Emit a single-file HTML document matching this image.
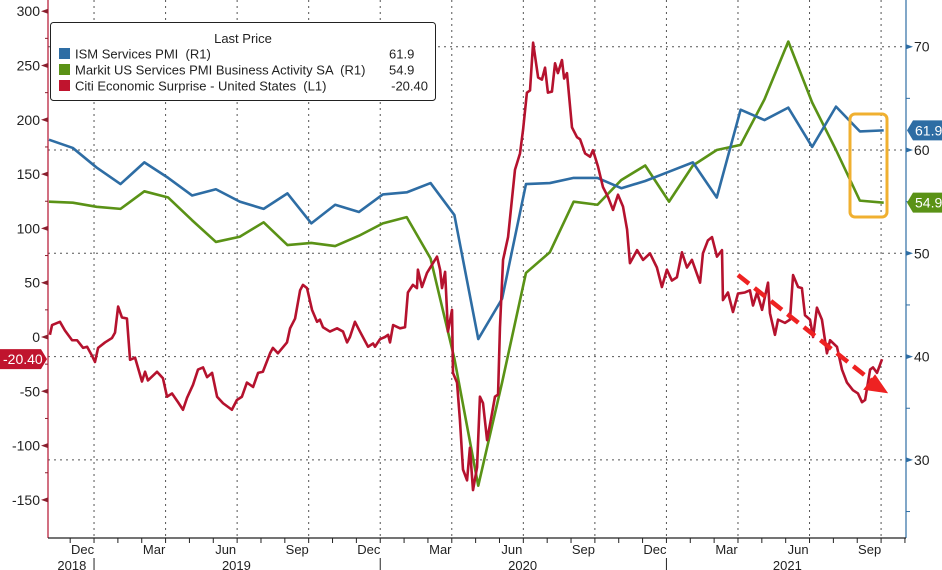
<!DOCTYPE html>
<html><head><meta charset="utf-8">
<style>
html,body{margin:0;padding:0;background:#fff;}
svg{display:block;font-family:"Liberation Sans",sans-serif;}
.pre{white-space:pre;}
</style></head>
<body>
<svg id="chart" width="942" height="570" viewBox="0 0 942 570"></svg>
<script>
// ---- data ----
const leftTicks = [300,250,200,150,100,50,0,-50,-100,-150];
const rightTicks = [70,60,50,40,30];
const rightMinor = [65,55,45,35,25];
const monthLabels = ["Dec","Mar","Jun","Sep","Dec","Mar","Jun","Sep","Dec","Mar","Jun","Sep"];
const yearLabels = ["2018","2019","2020","2021"];
const ismValues = [61.0,60.2,58.3,56.7,58.8,57.3,55.6,56.2,55.0,54.3,55.8,52.9,54.7,54.0,55.7,55.9,56.8,53.7,41.7,45.6,56.7,56.8,57.3,57.3,56.3,57.0,57.9,58.8,55.4,63.9,62.9,64.1,60.3,64.2,61.8,61.9];
const markitValues = [55.0,54.9,54.5,54.3,56.0,55.4,53.2,51.1,51.6,53.0,50.8,51.0,50.7,51.7,52.9,53.5,49.5,39.8,27.5,37.5,48.1,50.1,55.0,54.7,57.1,58.5,55.0,58.5,60.0,60.5,64.9,70.5,64.6,60.0,55.1,54.9];
const citiTimes = [0.08,0.17,0.50,0.71,1.01,1.22,1.47,1.64,1.84,1.97,2.10,2.39,2.68,2.81,2.94,3.10,3.31,3.44,3.65,3.94,4.07,4.19,4.57,4.82,4.99,5.20,5.45,5.66,5.83,6.08,6.29,6.50,6.67,6.88,7.09,7.34,7.71,7.92,8.13,8.34,8.60,8.81,9.01,9.31,9.43,9.64,10.02,10.15,10.36,10.57,10.69,10.86,11.07,11.28,11.40,11.53,11.82,12.12,12.37,12.54,12.66,12.87,13.08,13.42,13.63,13.71,13.92,14.13,14.26,14.34,14.47,14.76,14.97,15.09,15.30,15.47,15.51,15.68,15.89,16.14,16.31,16.44,16.52,16.65,16.77,16.94,16.98,17.15,17.27,17.40,17.57,17.69,17.82,17.99,18.11,18.24,18.41,18.62,18.74,18.87,18.95,19.08,19.29,19.58,19.79,19.92,20.08,20.21,20.34,20.55,20.71,20.84,20.96,21.13,21.26,21.38,21.55,21.64,21.76,21.97,22.18,22.31,22.52,22.73,22.85,23.06,23.27,23.48,23.69,23.90,24.11,24.28,24.40,24.70,24.95,25.24,25.53,25.74,25.95,26.16,26.37,26.58,26.79,27.00,27.34,27.46,27.67,27.84,28.05,28.26,28.30,28.51,28.72,28.93,29.22,29.43,29.56,29.73,29.94,30.19,30.27,30.48,30.61,30.90,31.11,31.24,31.45,31.61,31.74,31.95,32.08,32.24,32.45,32.66,32.79,33.08,33.29,33.50,33.75,33.96,34.13,34.26,34.47,34.59,34.76,34.97];
const citiValues = [2,11,14,6,-3,-3,-10,-9,-17,-23,-10,-5,-1,4,28,18,17,-21,-19,-41,-32,-40,-32,-38,-55,-52,-60,-67,-56,-44,-30,-28,-37,-33,-55,-61,-67,-58,-55,-42,-46,-33,-32,-15,-10,-15,-5,8,17,43,48,45,25,14,16,9,5,8,5,-5,0,14,5,-9,-6,-9,-2,0,2,-5,11,8,9,41,48,45,62,46,59,68,74,62,45,60,5,25,-33,-42,-76,-122,-132,-102,-141,-120,-55,-61,-95,-70,-55,-53,9,71,92,154,169,191,225,227,271,239,237,248,225,226,252,243,255,238,243,193,184,182,169,166,172,157,138,129,117,131,120,99,68,80,71,77,64,46,62,52,55,78,64,71,50,77,89,92,74,80,34,41,23,40,41,43,29,41,25,50,22,2,16,13,16,57,46,45,20,16,0,27,16,-15,-3,-9,-30,-42,-49,-52,-60,-58,-30,-28,-33,-20.4];
const lastValues = ["61.9","54.9","-20.40"];

// ---- scales ----
const X0 = 48, X1 = 906, YB = 538, MPX = 23.85;
const xT = t => X0 + t * MPX;
const yL = v => 337 - v * 1.086;
const yR = v => 150 - (v - 60) * 10.33;

const NS = "http://www.w3.org/2000/svg";
const svg = document.getElementById("chart");
function mk(tag, attrs, parent) {
  const e = document.createElementNS(NS, tag);
  for (const k in attrs) e.setAttribute(k, attrs[k]);
  (parent || svg).appendChild(e);
  return e;
}

// gridlines
const grid = mk("g", {});


rightTicks.forEach(v => {
  const l = mk("line", {x1: X0, x2: X1, y1: yR(v), y2: yR(v), stroke: "#555", "stroke-width": 1, "stroke-dasharray": "2,4"}, grid);
  
  
});
for (let k = 0; k < 12; k++) {
  const x = xT(1.93 + 3 * k);
  const l = mk("line", {x1: x, x2: x, y1: 0, y2: YB, stroke: "#555", "stroke-width": 1, "stroke-dasharray": "2,4"}, grid);
  
  
}

// axes
const ax = mk("g", {});


const la = mk("line", {x1: X0, x2: X0, y1: 0, y2: YB, stroke: "#b5122e", "stroke-width": 1.2}, ax);


const ra = mk("line", {x1: X1, x2: X1, y1: 0, y2: YB, stroke: "#2e6da4", "stroke-width": 1.2}, ax);


const ba = mk("line", {x1: X0, x2: X1, y1: YB, y2: YB, stroke: "#222", "stroke-width": 1.2}, ax);



leftTicks.forEach(v => {
  const y = yL(v);
  mk("path", {d: `M${X0} ${y - 2.5} L${X0} ${y + 2.5} L${X0 - 7} ${y} Z`, fill: "#8a1f2e"}, ax);
  const t = mk("text", {x: X0 - 8, y: y + 5, "text-anchor": "end", "font-size": 14, fill: "#222"}, ax);
  t.textContent = v;
  
  
});
for (let v = 275; v > -175; v -= 50) {
  mk("line", {x1: X0 - 3, x2: X0, y1: yL(v), y2: yL(v), stroke: "#8a1f2e"}, ax);
}
rightTicks.forEach(v => {
  const y = yR(v);
  mk("path", {d: `M${X1} ${y - 2.5} L${X1} ${y + 2.5} L${X1 + 7} ${y} Z`, fill: "#2e6da4"}, ax);
  const t = mk("text", {x: X1 + 8, y: y + 5, "font-size": 14, fill: "#222"}, ax);
  t.textContent = v;
  
  
});
rightMinor.forEach(v => {
  mk("line", {x1: X1, x2: X1 + 4, y1: yR(v), y2: yR(v), stroke: "#2e6da4"}, ax);
});
for (let m = 0; m < 37; m++) {
  const x = xT(0.93 + m);
  if (x > X1) break;
  mk("line", {x1: x, x2: x, y1: YB, y2: YB + 5, stroke: "#222"}, ax);
}
monthLabels.forEach((lab, i) => {
  const t = mk("text", {x: xT(1.45 + 3 * i), y: YB + 16, "text-anchor": "middle", "font-size": 13, fill: "#222"}, ax);
  t.textContent = lab;
  
  
});
const yearPos = [1.0, 7.9, 19.9, 31.0];
yearLabels.forEach((lab, i) => {
  const t = mk("text", {x: xT(yearPos[i]), y: YB + 32, "text-anchor": "middle", "font-size": 13, fill: "#222"}, ax);
  t.textContent = lab;
  
  
});
[1.93, 13.93, 25.93].forEach(t => {
  mk("line", {x1: xT(t), x2: xT(t), y1: YB + 20, y2: YB + 34, stroke: "#222"}, ax);
});

// series
function poly(pts, color, name, w) {
  const p = mk("polyline", {points: pts.map(p => p.join(",")).join(" "), fill: "none", stroke: color, "stroke-width": w, "stroke-linejoin": "round"});
  
  
}
poly(markitValues.map((v, i) => [xT(i + 0.04), yR(v)]), "#5a9216", "markit-services-pmi-line", 2.6);
poly(ismValues.map((v, i) => [xT(i + 0.04), yR(v)]), "#2e6da4", "ism-services-pmi-line", 2.6);
poly(citiValues.map((v, i) => [xT(citiTimes[i]), yL(v)]), "#b5122e", "citi-surprise-line", 2.6);

// annotation arrow
const arr = mk("g", {});


mk("line", {x1: 738, y1: 275, x2: 872, y2: 381, stroke: "#ee2222", "stroke-width": 4.5, "stroke-dasharray": "14,7"}, arr);
mk("path", {d: "M886 392 L865 389 L875 376 Z", fill: "#ee2222", stroke: "#ee2222", "stroke-width": 2}, arr);

// highlight box
const hb = mk("rect", {x: 850, y: 114, width: 37, height: 103, rx: 5, fill: "none", stroke: "#f0b030", "stroke-width": 3});



// value tags
function tag(x, y, w, color, text, name, left) {
  const g = mk("g", {});
  
  
  const d = left
    ? `M${x} ${y} L${x + 6} ${y - 10} L${x + w} ${y - 10} L${x + w} ${y + 10} L${x + 6} ${y + 10} Z`
    : `M${x + w} ${y} L${x + w - 6} ${y - 10} L${x} ${y - 10} L${x} ${y + 10} L${x + w - 6} ${y + 10} Z`;
  mk("path", {d, fill: color}, g);
  const t = mk("text", {x: left ? x + 8 : x + 3, y: y + 5, "font-size": 14, fill: "#fff"}, g);
  t.textContent = text;
}
tag(907, yR(61.9), 36, "#2e6da4", lastValues[0], "ism-last-value-tag", true);
tag(907, yR(54.9), 36, "#5a9216", lastValues[1], "markit-last-value-tag", true);
tag(0, yL(-20.4), 47, "#c0142e", lastValues[2], "citi-last-value-tag", false);

// legend
const lg = mk("g", {});


mk("rect", {x: 50.5, y: 22.5, width: 385, height: 78, rx: 3, fill: "#fff", stroke: "#222", "stroke-width": 1}, lg);
const lt = mk("text", {x: 243, y: 43, "text-anchor": "middle", "font-size": 13, fill: "#222"}, lg);
lt.textContent = "Last Price";


const entries = [
  ["ISM Services PMI  (R1)", "#2e6da4", lastValues[0]],
  ["Markit US Services PMI Business Activity SA  (R1)", "#5a9216", lastValues[1]],
  ["Citi Economic Surprise - United States  (L1)", "#c0142e", lastValues[2]]
];
entries.forEach((e, i) => {
  const y = 54 + i * 16;
  const g = mk("g", {}, lg);
  
  
  mk("rect", {x: 59, y: y - 6, width: 11, height: 11, fill: e[1]}, g);
  const t = mk("text", {x: 75, y: y + 4.5, "font-size": 13, fill: "#222", "class": "pre"}, g);
  t.textContent = e[0];
  const v = mk("text", {x: i === 2 ? 428 : 389, y: y + 4.5, "font-size": 13, fill: "#222", "text-anchor": i === 2 ? "end" : "start"}, g);
  v.textContent = e[2];
});
</script>
</body></html>
